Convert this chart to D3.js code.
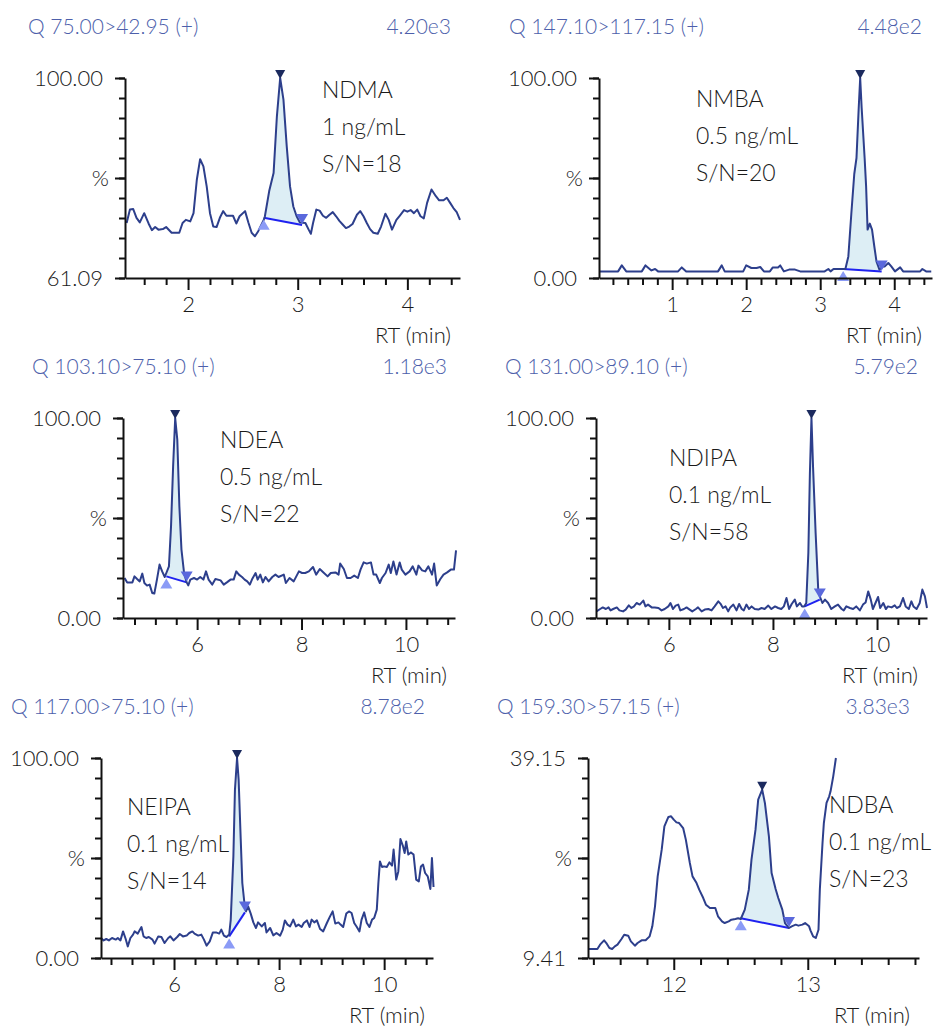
<!DOCTYPE html>
<html>
<head>
<meta charset="utf-8">
<script src="https://cdn.jsdelivr.net/npm/d3@7"></script>
<style>
body { margin: 0; background: #fff; }
text { font-family: Lato, "Source Sans Pro", sans-serif; font-weight: 300; }
</style>
</head>
<body>
<div id="chart"></div>
<script>
// ---- data (RT in min, intensity in %) ----
const titles = ["Q 75.00>42.95 (+)", "Q 147.10>117.15 (+)", "Q 103.10>75.10 (+)",
                "Q 131.00>89.10 (+)", "Q 117.00>75.10 (+)", "Q 159.30>57.15 (+)"];
const maxCounts = ["4.20e3", "4.48e2", "1.18e3", "5.79e2", "8.78e2", "3.83e3"];
const compounds = ["NDMA", "NMBA", "NDEA", "NDIPA", "NEIPA", "NDBA"];
const concs = ["1 ng/mL", "0.5 ng/mL", "0.5 ng/mL", "0.1 ng/mL", "0.1 ng/mL", "0.1 ng/mL"];
const snr = [18, 20, 22, 58, 14, 23];
const yDomains = [[61.09, 100], [0, 100], [0, 100], [0, 100], [0, 100], [9.41, 39.15]];
const yLabels = [["61.09", "100.00"], ["0.00", "100.00"], ["0.00", "100.00"],
                 ["0.00", "100.00"], ["0.00", "100.00"], ["9.41", "39.15"]];
const xMajor = [[2, 3, 4], [1, 2, 3, 4], [6, 8, 10], [6, 8, 10], [6, 8, 10], [12, 13]];
const xMinorStep = [0.2, 0.2, 0.4, 0.4, 0.4, 0.2];

const ndmaRT = [1.44,1.47,1.50,1.53,1.56,1.60,1.64,1.67,1.70,1.73,1.77,1.80,1.85,1.92,1.95,1.98,2.02,2.05,2.08,2.11,
  2.14,2.17,2.20,2.23,2.26,2.29,2.32,2.35,2.38,2.41,2.44,2.47,2.52,2.55,2.58,2.61,2.64,2.69,2.70,2.74,
  2.78,2.81,2.84,2.87,2.90,2.93,2.96,2.99,3.02,3.07,3.10,3.12,3.14,3.17,3.20,3.23,3.26,3.29,3.32,3.35,
  3.38,3.41,3.44,3.47,3.50,3.54,3.57,3.60,3.63,3.66,3.69,3.73,3.76,3.80,3.83,3.86,3.90,3.93,3.97,4.00,
  4.03,4.06,4.09,4.12,4.15,4.18,4.22,4.26,4.29,4.33,4.36,4.39,4.42,4.45,4.48];
const ndmaPct = [71.8,74.4,74.5,72.8,71.9,73.7,71.7,70.4,71.0,70.5,70.6,71.0,69.9,69.9,71.8,72.4,72.1,73.7,80.2,84.2,
  82.8,78.9,73.7,71.1,71.0,72.8,74.1,73.2,73.2,73.2,71.7,73.1,74.1,71.9,69.9,69.2,70.2,72.4,73.0,78.0,
  81.5,92.5,100,95.8,86.7,78.9,75.0,73.1,71.9,71.8,70.5,69.7,71.8,74.4,74.2,73.2,72.8,73.4,73.9,73.1,
  72.2,71.5,70.8,71.1,71.6,73.4,74.1,73.1,71.8,70.6,69.9,69.7,71.1,73.6,72.4,70.5,72.4,73.2,74.3,74.0,
  74.3,73.7,74.4,73.1,72.7,75.7,78.3,77.0,76.2,76.2,76.7,75.7,74.7,73.9,72.4];

const nmbaRT = [0.02,0.27,0.32,0.38,0.59,0.64,0.72,0.77,0.81,1.08,1.13,1.19,1.62,1.67,1.71,1.96,2.00,2.07,2.14,2.19,
  2.24,2.32,2.36,2.43,2.46,2.51,2.58,2.66,2.73,3.06,3.11,3.14,3.18,3.34,3.38,3.42,3.46,3.49,3.52,3.54,
  3.56,3.60,3.62,3.64,3.67,3.70,3.73,3.76,3.80,3.85,3.87,3.92,3.96,4.01,4.08,4.12,4.35,4.38,4.43,4.50];
const nmbaPct = [3.3,3.3,6.3,3.3,3.3,6.3,3.8,4.5,3.3,3.3,5.3,3.3,3.3,6.3,3.3,3.3,6.3,5.0,5.0,5.5,
  3.3,3.3,5.3,5.3,6.3,3.3,4.2,4.2,3.3,3.3,4.5,3.3,4.5,4.5,10.8,32,52,60,85,100,
  85,60,45.8,24.2,27.2,24.2,16.0,8.3,4.2,5.8,5.8,7.5,5.8,3.3,5.3,3.3,3.3,4.5,3.3,3.3];

const ndeaRT = [4.61,4.66,4.76,4.80,4.85,4.90,4.95,4.99,5.04,5.09,5.14,5.18,5.23,5.28,5.33,5.38,5.46,5.50,5.54,5.58,
  5.62,5.66,5.70,5.75,5.80,5.83,5.87,5.94,6.00,6.06,6.12,6.17,6.22,6.29,6.35,6.45,6.51,6.57,6.64,6.70,
  6.75,6.80,6.86,6.91,6.96,7.01,7.05,7.12,7.16,7.21,7.26,7.31,7.37,7.44,7.50,7.56,7.66,7.70,7.77,7.85,
  7.95,8.01,8.07,8.14,8.22,8.28,8.35,8.42,8.50,8.56,8.65,8.71,8.74,8.81,8.87,8.94,9.01,9.08,9.13,9.19,
  9.25,9.33,9.38,9.43,9.50,9.54,9.61,9.67,9.71,9.76,9.82,9.88,9.92,9.99,10.07,10.13,10.20,10.24,10.31,10.37,
  10.43,10.50,10.54,10.59,10.66,10.72,10.79,10.86,10.92,10.96];
const ndeaPct = [20.0,17.8,17.8,20.8,19.5,18.3,22.2,17.5,16.2,16.7,12.5,12.2,19.2,26.7,23.3,20.5,25.8,45.8,75.8,100,
  89.2,55.8,34.2,22.5,17.8,16.3,19.2,20.0,19.2,20.5,19.2,23.3,19.2,16.7,19.5,18.8,16.7,17.8,19.2,19.2,
  23.3,21.7,20.5,19.2,18.3,16.7,19.2,22.5,19.2,21.7,17.8,20.5,18.3,20.5,21.7,20.5,21.7,17.5,20.0,18.3,
  23.3,22.5,22.5,23.3,25.5,21.7,24.5,22.8,20.8,22.5,22.8,21.7,27.2,24.5,20.0,20.0,21.2,20.0,24.2,27.8,
  27.2,27.8,21.7,21.7,17.5,20.0,22.5,26.7,22.5,28.3,21.7,27.8,24.2,21.7,23.3,25.8,21.7,26.2,23.8,23.3,
  25.8,21.7,27.2,16.3,19.5,21.7,22.8,24.2,24.2,33.8];

const ndipaRT = [4.61,4.68,4.73,4.79,4.84,4.88,4.93,5.00,5.05,5.12,5.17,5.23,5.28,5.33,5.38,5.44,5.51,5.55,5.60,5.67,
  5.73,5.80,5.86,5.92,5.99,6.03,6.08,6.13,6.18,6.22,6.29,6.34,6.40,6.45,6.52,6.56,6.63,6.69,6.76,6.82,
  6.88,6.95,6.99,7.04,7.09,7.14,7.18,7.24,7.30,7.35,7.40,7.44,7.49,7.54,7.59,7.65,7.72,7.78,7.84,7.91,
  7.97,8.04,8.10,8.16,8.21,8.26,8.31,8.36,8.42,8.46,8.52,8.56,8.60,8.64,8.68,8.71,8.74,8.77,8.82,8.87,
  8.90,8.95,9.00,9.06,9.12,9.19,9.25,9.32,9.36,9.41,9.48,9.54,9.60,9.67,9.73,9.78,9.83,9.88,9.92,9.97,
  10.02,10.06,10.12,10.17,10.21,10.28,10.34,10.38,10.44,10.50,10.55,10.61,10.66,10.70,10.76,10.82,10.87,10.92,10.96];
const ndipaPct = [3.3,4.5,5.3,4.5,5.3,3.8,4.5,5.3,3.8,3.3,4.2,6.3,5.0,5.8,7.5,6.7,8.7,5.8,6.7,5.3,
  5.3,5.0,3.8,4.5,5.8,7.5,4.5,6.2,6.7,3.8,4.5,5.3,4.2,3.3,4.5,5.3,3.3,4.2,4.5,3.8,
  5.8,8.3,7.2,5.0,5.8,3.3,5.3,6.7,3.8,7.0,4.5,3.8,6.7,4.5,5.8,4.5,4.2,5.0,4.5,6.2,
  4.5,5.8,5.0,4.5,5.8,10.0,4.5,7.0,9.2,5.8,7.5,5.8,5.8,7.5,32.5,72.5,100,75.8,42.5,14.2,
  10.8,7.5,9.2,7.5,4.5,5.8,6.7,4.5,3.8,5.8,5.0,4.5,5.8,3.8,6.7,7.8,13.3,9.2,4.5,7.5,
  10.5,5.0,7.5,4.5,5.8,5.3,6.3,5.0,5.8,10.0,5.8,4.5,8.3,5.8,4.5,7.5,14.2,10.8,5.0];

const neipaRT = [4.61,4.66,4.71,4.76,4.82,4.89,4.93,4.98,5.03,5.08,5.12,5.17,5.22,5.25,5.31,5.38,5.42,5.47,5.52,5.59,
  5.63,5.70,5.76,5.82,5.89,5.93,5.99,6.06,6.11,6.17,6.24,6.29,6.35,6.39,6.46,6.52,6.57,6.62,6.68,6.74,
  6.80,6.86,6.90,6.95,7.00,7.05,7.08,7.13,7.16,7.20,7.23,7.27,7.30,7.34,7.37,7.41,7.46,7.51,7.56,7.60,
  7.67,7.73,7.76,7.83,7.89,7.95,8.02,8.07,8.11,8.16,8.21,8.27,8.32,8.37,8.43,8.47,8.53,8.58,8.62,8.67,
  8.72,8.78,8.84,8.91,8.97,9.02,9.07,9.13,9.17,9.22,9.28,9.33,9.38,9.43,9.48,9.53,9.57,9.62,9.67,9.72,
  9.77,9.81,9.86,9.89,9.92,9.96,10.00,10.05,10.10,10.15,10.18,10.23,10.27,10.31,10.36,10.39,10.42,10.46,10.51,10.56,
  10.61,10.66,10.70,10.74,10.78,10.83,10.88,10.91,10.94];
const neipaPct = [10.0,8.8,9.5,8.8,10.0,9.2,10.0,8.8,13.3,9.5,5.8,10.0,11.7,13.3,12.2,15.5,10.8,10.0,10.5,9.2,
  7.2,10.8,10.5,7.5,10.0,10.8,8.8,10.5,12.0,10.8,11.2,12.5,13.3,12.2,11.2,11.7,9.2,6.2,8.3,12.8,
  12.8,12.2,14.2,11.2,10.5,11.7,19.2,50.8,84.2,100,89.2,59.2,37.5,27.5,23.3,25.8,22.2,17.8,15.0,17.8,
  15.8,17.5,12.8,15.0,11.3,12.5,11.2,14.2,18.8,16.7,15.8,19.2,15.8,16.7,15.5,17.5,18.8,15.5,19.2,17.8,
  18.8,14.5,13.3,17.5,20.8,23.3,17.2,17.8,16.7,15.5,22.2,23.3,22.5,17.5,15.5,13.3,19.2,22.8,17.5,15.5,
  19.2,20.0,24.2,37.5,48.3,45.5,45.8,45.5,47.8,46.2,54.2,39.2,43.3,59.5,55.8,52.5,58.3,51.7,52.8,51.7,
  39.2,38.3,45.8,46.7,42.5,40.8,34.5,50.0,35.5];

const ndbaRT = [11.36,11.43,11.45,11.48,11.50,11.52,11.54,11.56,11.58,11.61,11.63,11.66,11.68,11.71,11.73,11.76,11.79,11.82,11.84,11.86,
  11.88,11.91,11.93,11.96,11.98,12.00,12.02,12.04,12.07,12.09,12.12,12.14,12.17,12.19,12.22,12.24,12.27,12.31,12.33,12.36,
  12.38,12.41,12.43,12.46,12.48,12.50,12.53,12.56,12.58,12.61,12.63,12.66,12.68,12.71,12.73,12.76,12.78,12.81,12.83,12.86,
  12.88,12.91,12.93,12.96,12.98,13.01,13.02,13.04,13.06,13.08,13.09,13.11,13.12,13.14,13.16,13.17,13.19,13.21];
const ndbaPct = [10.75,10.75,11.39,12.04,11.54,10.90,10.75,11.14,11.39,12.24,12.88,12.73,11.89,11.24,11.64,12.04,12.04,12.63,14.12,17.09,
  21.55,25.52,28.99,30.38,30.48,29.98,29.58,29.48,28.74,27.01,23.54,21.55,20.56,19.57,18.33,17.34,16.85,16.85,15.61,14.86,
  14.61,14.86,15.11,15.21,15.31,15.21,16.60,19.57,24.03,28.49,32.95,34.44,32.46,27.50,22.05,19.67,18.33,16.60,14.61,13.87,
  14.12,14.37,14.22,14.37,14.61,14.12,13.52,12.63,12.38,13.62,19.57,26.51,29.48,32.46,33.45,34.19,36.42,39.15];

// integrated peak: [start RT, start %], [end RT, end %], apex RT
const peakStart = [[2.69, 72.8], [3.31, 4.5], [5.41, 20.8], [8.61, 5.8], [7.05, 10.8], [12.50, 15.31]];
const peakEnd   = [[3.04, 71.4], [3.83, 3.3], [5.80, 17.8], [8.90, 9.2], [7.35, 22.8], [12.86, 13.87]];
const apexRT    = [2.84, 3.54, 5.58, 8.74, 7.20, 12.66];

const traces = [[ndmaRT, ndmaPct], [nmbaRT, nmbaPct], [ndeaRT, ndeaPct],
                [ndipaRT, ndipaPct], [neipaRT, neipaPct], [ndbaRT, ndbaPct]];

// ---- layout of the six panels ----
const layout = [
  {ax: 125, xr: 460, top: 78,  xd: [1.425, 4.48], tx: 28,  mr: 451, lx: 322, ly: 98},
  {ax: 599, xr: 932, top: 78,  xd: [0.012, 4.51], tx: 509, mr: 922, lx: 696, ly: 107},
  {ax: 123, xr: 455, top: 418, xd: [4.58, 10.94], tx: 32,  mr: 447, lx: 220, ly: 448},
  {ax: 596, xr: 927, top: 418, xd: [4.60, 10.96], tx: 505, mr: 918, lx: 669, ly: 466},
  {ax: 101, xr: 433, top: 758, xd: [4.61, 10.93], tx: 11,  mr: 425, lx: 127, ly: 815},
  {ax: 588, xr: 919, top: 758, xd: [11.36, 13.83], tx: 497, mr: 910, lx: 829, ly: 813}
];

const svg = d3.select("#chart").append("svg")
    .attr("width", 938)
    .attr("height", 1030);

traces.forEach((tr, i) => {
  const L = layout[i];
  const g = svg.append("g");
  const x = d3.scaleLinear().domain(L.xd).range([L.ax, L.xr]);
  const y = d3.scaleLinear().domain(yDomains[i]).range([L.top + 200, L.top]);
  const pts = tr[0].map((t, j) => [t, tr[1][j]]);
  const line = d3.line().x(d => x(d[0])).y(d => y(d[1]));

  // header
  g.append("text")
      .attr("x", L.tx).attr("y", L.top - 44)
      .style("font-size", "21px").attr("fill", "#4d5fab")
      .text(titles[i]);
  g.append("text")
      .attr("x", L.mr).attr("y", L.top - 44)
      .attr("text-anchor", "end")
      .style("font-size", "21px").attr("fill", "#4d5fab")
      .text(maxCounts[i]);

  // peak area between trace and baseline
  const ps = peakStart[i], pe = peakEnd[i];
  const inside = pts.filter(d => d[0] > ps[0] && d[0] < pe[0]);
  g.append("path")
      .attr("d", line([ps, ...inside, pe]) + "Z")
      .attr("fill", "#ddeef5");
  g.append("line")
      .attr("x1", x(ps[0])).attr("y1", y(ps[1]))
      .attr("x2", x(pe[0])).attr("y2", y(pe[1]))
      .attr("stroke", "#1f22f0").attr("stroke-width", 2);

  // trace
  g.append("path")
      .attr("d", line(pts))
      .attr("fill", "none")
      .attr("stroke", "#2d3f8c")
      .attr("stroke-width", 2)
      .attr("stroke-linejoin", "round");

  // markers
  const ax0 = x(apexRT[i]);
  const ay0 = y(d3.max(inside, d => d[1]));
  g.append("path")
      .attr("d", `M${ax0},${ay0 + 1} l-5,-9 l10,0 Z`)
      .attr("fill", "#1b2a5e");
  g.append("path")
      .attr("d", `M${x(ps[0])},${y(ps[1]) + 2} l-6,10 l12,0 Z`)
      .attr("fill", "#8b9bf6");
  g.append("path")
      .attr("d", `M${x(pe[0])},${y(pe[1]) - 1} l-6,-10 l12,0 Z`)
      .attr("fill", "#5a68dc");

  // x axis
  const step = xMinorStep[i];
  const minor = d3.range(Math.ceil(L.xd[0] / step) * step, L.xd[1], step)
      .filter(v => !xMajor[i].some(m => Math.abs(m - v) < 1e-6));
  const gx = g.append("g").attr("transform", `translate(0,${L.top + 200})`);
  gx.call(d3.axisBottom(x).tickValues(xMajor[i]).tickSize(12).tickSizeOuter(0).tickPadding(6).tickFormat(d3.format("d")));
  gx.append("g").call(d3.axisBottom(x).tickValues(minor).tickSize(7).tickFormat(""))
      .select(".domain").remove();
  gx.selectAll("text").style("font-size", "22px").attr("fill", "#1a1a1a");

  // y axis
  const yd = yDomains[i];
  const yMinor = d3.range(11).map(k => yd[0] + k * (yd[1] - yd[0]) / 10);
  const yMaj = [yMinor[0], yMinor[5], yMinor[10]];
  const yText = [yLabels[i][0], "%", yLabels[i][1]];
  const gy = g.append("g").attr("transform", `translate(${L.ax},0)`);
  gy.call(d3.axisLeft(y).tickValues(yMaj).tickSize(10).tickSizeOuter(0).tickPadding(12)
      .tickFormat((d, k) => yText[k]));
  gy.append("g").call(d3.axisLeft(y).tickValues(yMinor).tickSize(6).tickFormat(""))
      .select(".domain").remove();
  gy.selectAll("text").style("font-size", "22px").attr("fill", "#1a1a1a");
  gy.selectAll(".tick text").filter(d => d === yMaj[1]).attr("x", -16);

  g.selectAll(".domain, .tick line").attr("stroke", "#111").attr("stroke-width", 2);

  // RT label
  g.append("text")
      .attr("x", L.mr).attr("y", L.top + 265)
      .attr("text-anchor", "end")
      .style("font-size", "22px").attr("fill", "#1a1a1a")
      .text("RT (min)");

  // compound annotation
  [compounds[i], concs[i], "S/N=" + snr[i]].forEach((s, k) => {
    g.append("text")
        .attr("x", L.lx).attr("y", L.ly + k * 37)
        .style("font-size", "23px").attr("fill", "#1a1a1a")
        .text(s);
  });
});
</script>
</body>
</html>
